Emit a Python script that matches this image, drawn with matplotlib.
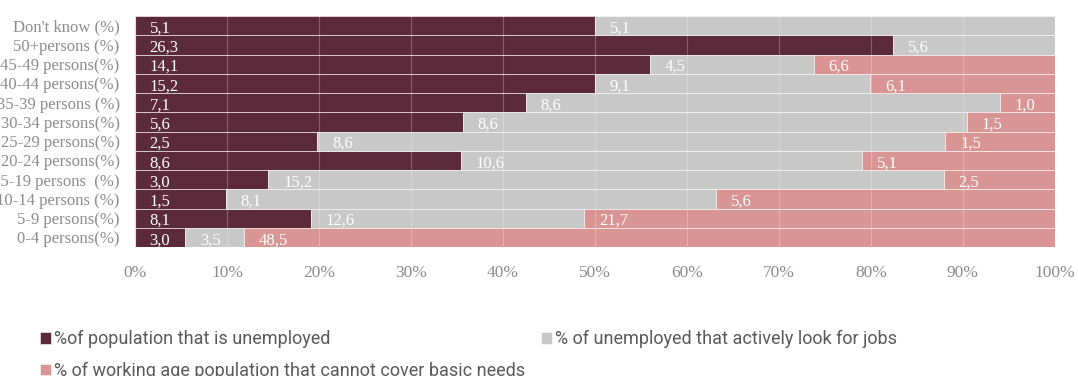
import matplotlib
matplotlib.use('Agg')

import numpy as np
import matplotlib.pyplot as plt


# ------------ data (top row first) ---------------
groups = ["Don't know (%)", "50+persons (%)", "45-49 persons(%)", "40-44 persons(%)",
          "35-39 persons (%)", "30-34 persons(%)", "25-29 persons(%)", "20-24 persons(%)",
          "15-19 persons  (%)", "10-14 persons (%)", "5-9 persons(%)", "0-4 persons(%)"]
unemployed = [5.1, 26.3, 14.1, 15.2, 7.1, 5.6, 2.5, 8.6, 3.0, 1.5, 8.1, 3.0]
looking = [5.1, 5.6, 4.5, 9.1, 8.6, 8.6, 8.6, 10.6, 15.2, 8.1, 12.6, 3.5]
basic_needs = [0, 0, 6.6, 6.1, 1.0, 1.5, 1.5, 5.1, 2.5, 5.6, 21.7, 48.5]
series_names = ['%of population that is unemployed',
                '% of unemployed that actively look for jobs',
                '% of working age population that cannot cover basic needs']
colors = ['#5B2A3B', '#C8C8C8', '#D99594']
tick_labels = ['0%', '10%', '20%', '30%', '40%', '50%', '60%', '70%', '80%', '90%', '100%']

# ------------ figure ---------------
fig = plt.figure(figsize=(10.78, 3.76), dpi=100)
ax = fig.add_axes([0.1252, 0.343, 0.8534, 0.6144])

data = np.array([unemployed, looking, basic_needs], dtype=float)
totals = data.sum(axis=0)
shares = data / totals * 100
y = np.arange(len(groups))

left = np.zeros(len(groups))
handles = []
for i in range(3):
    h = ax.barh(y, shares[i], left=left, height=1.0, color=colors[i],
                edgecolor='white', linewidth=0.4, label=series_names[i], zorder=2)
    handles.append(h)
    for j in range(len(groups)):
        if data[i, j] > 0:
            ax.text(left[j] + 1.6, y[j] + 0.15, f'{data[i, j]:.1f}'.replace('.', ','),
                    color='white', fontsize=12, family='Liberation Serif',
                    ha='left', va='center', zorder=4)
    left += shares[i]

ax.set_xlim(0, 100)
ax.set_ylim(len(groups) - 0.5, -0.5)
ax.set_xticks(np.arange(0, 101, 10))
ax.set_xticklabels(tick_labels)
ax.set_yticks(y)
ax.set_yticklabels(groups)
ax.tick_params(axis='x', length=0, pad=13, labelsize=12.5, labelcolor='#8C8C8C')
ax.tick_params(axis='y', length=0, pad=11, labelsize=12, labelcolor='#8C8C8C')
for lab in ax.get_xticklabels() + ax.get_yticklabels():
    lab.set_family('Liberation Serif')

ax.xaxis.grid(True, color='white', alpha=0.25, linewidth=0.8, zorder=3)
ax.set_axisbelow(False)
for s in ['top', 'right', 'bottom']:
    ax.spines[s].set_visible(False)
ax.spines['left'].set_color('#D9D9D9')

# column-major fill: first column gets items 1 and 3
order = [0, 2, 1]
fig.legend(handles=[handles[k] for k in order], labels=[series_names[k] for k in order],
           loc='upper left', bbox_to_anchor=(0.022, 0.165),
           ncol=2, frameon=False, handlelength=0.6, handleheight=0.6,
           handletextpad=0.2, columnspacing=0.85, labelspacing=0.75,
           prop={'family': 'Roboto', 'size': 13},
           labelcolor='#595959')

fig.savefig('out.png', dpi=100)
